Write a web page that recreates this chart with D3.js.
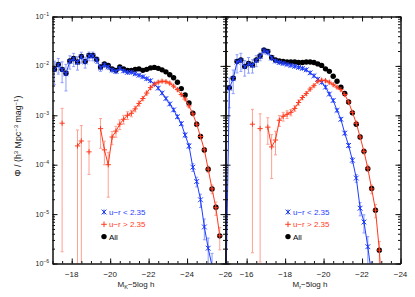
<!DOCTYPE html>
<html><head><meta charset="utf-8">
<script src="https://cdn.jsdelivr.net/npm/d3@7"></script>
<style>body{margin:0;background:#fff}svg{display:block}text{font-family:"Liberation Sans",Arial,sans-serif}</style>
</head><body><svg id="c" width="415" height="297"></svg>
<script>
// ---------- DATA (log10 Phi, relative errors) ----------
// Left panel: M_K - 5 log h
const kAllM = [-17.1,-17.3,-17.5,-17.7,-17.9,-18.1,-18.3,-18.5,-18.7,-18.9,-19.1,-19.3,-19.5,-19.7,-19.9,-20.1,-20.3,-20.5,-20.7,-20.9,-21.1,-21.3,-21.5,-21.7,-21.9,-22.1,-22.3,-22.5,-22.7,-22.9,-23.1,-23.3,-23.5,-23.7,-23.9,-24.1,-24.3,-24.5,-24.7,-24.9,-25.1,-25.3,-25.5,-25.7];
const kAll  = [-2.07,-1.97,-2.07,-2.15,-1.90,-1.85,-1.92,-1.81,-1.91,-1.79,-1.79,-1.87,-2.02,-1.96,-1.99,-2.06,-2.09,-2.02,-2.06,-2.09,-2.09,-2.07,-2.06,-2.09,-2.07,-2.04,-2.03,-2.05,-2.08,-2.12,-2.18,-2.24,-2.33,-2.46,-2.59,-2.75,-2.96,-3.18,-3.43,-3.70,-4.09,-4.49,-4.86,-5.44];

const kBlueM = [-17.1,-17.3,-17.5,-17.7,-17.9,-18.1,-18.3,-18.5,-18.7,-18.9,-19.1,-19.3,-19.5,-19.7,-19.9,-20.1,-20.3,-20.5,-20.7,-20.9,-21.1,-21.3,-21.5,-21.7,-21.9,-22.1,-22.3,-22.5,-22.7,-22.9,-23.1,-23.3,-23.5,-23.7,-23.9,-24.1,-24.3,-24.5,-24.7,-24.9,-25.1,-25.3,-25.5];
const kBlue  = [-2.08,-1.98,-2.08,-2.16,-1.91,-1.86,-1.93,-1.82,-1.92,-1.80,-1.80,-1.88,-2.04,-1.98,-2.02,-2.08,-2.11,-2.05,-2.10,-2.13,-2.13,-2.16,-2.19,-2.22,-2.26,-2.30,-2.37,-2.45,-2.55,-2.66,-2.77,-2.89,-3.03,-3.17,-3.40,-3.62,-4.05,-4.34,-4.71,-5.26,-5.69,-6.05,-6.50];
const kBlueErr = [0.5,0.35,0.45,0.55,0.3,0.3,0.3,0.25,0.25,0.2,0.2,0.15,0.15,0.12,0.12,0.1,0.1,0.08,0.08,0.06,0.05,0.05,0.05,0.05,0.05,0.05,0.05,0.05,0.05,0.05,0.05,0.06,0.07,0.08,0.1,0.12,0.18,0.22,0.3,0.45,0.6,0.8,1.0];

const kRedM = [-17.5,-17.7,-17.9,-18.1,-18.3,-18.5,-18.7,-18.9,-19.1,-19.3,-19.5,-19.7,-19.9,-20.1,-20.3,-20.5,-20.7,-20.9,-21.1,-21.3,-21.5,-21.7,-21.9,-22.1,-22.3,-22.5,-22.7,-22.9,-23.1,-23.3,-23.5,-23.7,-23.9,-24.1,-24.3,-24.5,-24.7,-24.9,-25.1,-25.3,-25.5,-25.7];
const kRed  = [-3.16,null,null,null,-3.62,-3.52,null,-3.74,null,null,-3.27,-3.70,-4.00,-3.44,-3.32,-3.18,-3.08,-3.00,-2.96,-2.87,-2.76,-2.66,-2.55,-2.44,-2.37,-2.33,-2.31,-2.32,-2.35,-2.41,-2.48,-2.58,-2.67,-2.81,-2.97,-3.18,-3.43,-3.70,-4.09,-4.49,-4.87,-5.44];
const kRedErr = [0.9975,0,0,0,1.1,1.05,0,0.65,0,0,0.6,0.5,0.78,0.3,0.25,0.22,0.2,0.18,0.15,0.13,0.12,0.1,0.09,0.08,0.07,0.06,0.06,0.06,0.06,0.06,0.06,0.06,0.06,0.07,0.08,0.09,0.1,0.12,0.15,0.2,0.3,0.48];

// Right panel: M_r - 5 log h
const rAllM = [-15.1,-15.3,-15.5,-15.7,-15.9,-16.1,-16.3,-16.5,-16.7,-16.9,-17.1,-17.3,-17.5,-17.7,-17.9,-18.1,-18.3,-18.5,-18.7,-18.9,-19.1,-19.3,-19.5,-19.7,-19.9,-20.1,-20.3,-20.5,-20.7,-20.9,-21.1,-21.3,-21.5,-21.7,-21.9,-22.1,-22.3,-22.5,-22.7,-22.9];
const rAll  = [-2.44,-2.25,-1.91,-1.88,-2.01,-1.95,-1.98,-1.88,-1.80,-1.68,-1.71,-1.83,-1.88,-1.90,-1.91,-1.92,-1.92,-1.92,-1.93,-1.93,-1.92,-1.92,-1.93,-1.96,-1.99,-2.06,-2.11,-2.21,-2.31,-2.43,-2.56,-2.73,-2.95,-3.18,-3.44,-3.73,-4.08,-4.48,-4.92,-5.73];

const rBlueM = [-14.9,-15.1,-15.3,-15.5,-15.7,-15.9,-16.1,-16.3,-16.5,-16.7,-16.9,-17.1,-17.3,-17.5,-17.7,-17.9,-18.1,-18.3,-18.5,-18.7,-18.9,-19.1,-19.3,-19.5,-19.7,-19.9,-20.1,-20.3,-20.5,-20.7,-20.9,-21.1,-21.3,-21.5,-21.7,-21.9,-22.1,-22.3,-22.5];
const rBlue  = [-7.0,-2.45,-2.26,-1.92,-1.89,-2.02,-1.96,-1.99,-1.89,-1.81,-1.69,-1.72,-1.84,-1.90,-1.93,-1.95,-1.97,-1.99,-2.01,-2.03,-2.05,-2.08,-2.14,-2.20,-2.27,-2.33,-2.43,-2.57,-2.70,-2.90,-3.08,-3.36,-3.61,-3.91,-4.27,-4.88,-5.16,-5.66,-6.25];
const rBlueErr = [0,0.6,0.5,0.4,0.4,0.35,0.35,0.3,0.25,0.18,0.14,0.12,0.1,0.08,0.07,0.06,0.05,0.05,0.05,0.05,0.05,0.05,0.05,0.05,0.05,0.05,0.05,0.05,0.06,0.06,0.07,0.08,0.1,0.13,0.18,0.3,0.4,0.6,0.9];

const rRedM = [-16.3,-16.5,-16.7,-16.9,-17.1,-17.3,-17.5,-17.7,-17.9,-18.1,-18.3,-18.5,-18.7,-18.9,-19.1,-19.3,-19.5,-19.7,-19.9,-20.1,-20.3,-20.5,-20.7,-20.9,-21.1,-21.3,-21.5,-21.7,-21.9,-22.1,-22.3,-22.5,-22.7,-22.9,-23.1];
const rRed  = [-3.18,null,-3.27,null,-3.24,-3.64,-3.50,-3.10,-3.02,-2.98,-2.94,-2.86,-2.74,-2.64,-2.56,-2.47,-2.40,-2.31,-2.29,-2.30,-2.33,-2.38,-2.43,-2.48,-2.58,-2.73,-2.94,-3.16,-3.44,-3.73,-4.07,-4.49,-4.92,-5.73,-7.0];
const rRedErr = [0.9975,0,0.998,0,0.55,0.77,0.5,0.25,0.2,0.18,0.15,0.13,0.12,0.1,0.09,0.08,0.07,0.06,0.06,0.06,0.06,0.06,0.06,0.06,0.06,0.07,0.08,0.09,0.1,0.12,0.15,0.2,0.3,0.5,0];

const yTickExps = [-6,-5,-4,-3,-2,-1];
const kTickLabels = [-18,-20,-22,-24,-26];
const rTickLabels = [-16,-18,-20,-22,-24];
const legendLabels = ["u\u2212r < 2.35","u\u2212r > 2.35","All"];

// ---------- LAYOUT ----------
const BLUE="#1e3cff", BLUE_E="#8c9cff", RED="#ff3a1e", RED_E="#ffa092", BLACK="#000";
const yTop=16.5, yBot=263.5;
const y = d3.scaleLog().domain([1e-6,1e-1]).range([yBot,yTop]);
const xK = d3.scaleLinear().domain([-17,-26]).range([52.5,225.5]);
const xR = d3.scaleLinear().domain([-14.9,-24]).range([225.5,400.5]);
const svg = d3.select("#c");

function mk(M, L, E){ return M.map((m,i)=>({m, v: L[i]==null?null:Math.pow(10,L[i]), e: E?E[i]:0})); }

function asterisk(sel, s){ sel.append("path").attr("d",`M0,${-s}V${s}M${-s},${-s}L${s},${s}M${-s},${s}L${s},${-s}`); }
function plus(sel, s){ sel.append("path").attr("d",`M${-s},0H${s}M0,${-s}V${s}`); }

function panel(id, x, all, blue, red){
  const [x0,x1] = x.range();
  svg.append("clipPath").attr("id",id).append("rect").attr("x",x0).attr("y",yTop).attr("width",x1-x0).attr("height",yBot-yTop);
  const g = svg.append("g").attr("clip-path",`url(#${id})`);
  const bottomOff = yBot+50;
  function errs(data, col){
    const eg = g.append("g").attr("stroke",col).attr("stroke-width",1).attr("fill","none");
    data.filter(d=>d.v!=null && d.e>0).forEach(d=>{
      const cx = x(d.m);
      const lo = d.v*(1-d.e), hi = d.v*(1+d.e);
      const yl = lo>0 ? y(lo) : bottomOff, yh = y(hi);
      eg.append("line").attr("x1",cx).attr("x2",cx).attr("y1",yh).attr("y2",yl);
      eg.append("line").attr("x1",cx-1.5).attr("x2",cx+1.5).attr("y1",yh).attr("y2",yh);
      if(lo>0) eg.append("line").attr("x1",cx-1.5).attr("x2",cx+1.5).attr("y1",yl).attr("y2",yl);
    });
  }
  errs(blue, BLUE_E);
  errs(red, RED_E);
  // All circles
  g.append("g").selectAll("circle").data(all).join("circle")
    .attr("cx",d=>x(d.m)).attr("cy",d=>y(d.v)).attr("r",2.7).attr("fill",BLACK);
  const line = d3.line().defined(d=>d.v!=null).x(d=>x(d.m)).y(d=>y(d.v));
  // blue
  g.append("path").datum(blue).attr("d",line).attr("fill","none").attr("stroke",BLUE).attr("stroke-width",1);
  const bg = g.append("g").attr("stroke",BLUE).attr("stroke-width",1).attr("fill","none");
  blue.filter(d=>d.v!=null).forEach(d=>{ asterisk(bg.append("g").attr("transform",`translate(${x(d.m)},${y(d.v)})`),2.4); });
  // red
  g.append("path").datum(red).attr("d",line).attr("fill","none").attr("stroke",RED).attr("stroke-width",1);
  const rg = g.append("g").attr("stroke",RED).attr("stroke-width",1).attr("fill","none");
  red.filter(d=>d.v!=null).forEach(d=>{ plus(rg.append("g").attr("transform",`translate(${x(d.m)},${y(d.v)})`),2.6); });

  // axes (inward ticks on all sides)
  const dom = x.domain();
  const lo = Math.min(...dom), hi = Math.max(...dom);
  const minor = d3.range(Math.ceil(lo*2)/2, hi+1e-9, 0.5);
  const major = minor.filter(v=>Math.abs(v%2)<1e-9);
  const ax = (axis, ty)=> svg.append("g").attr("transform",`translate(0,${ty})`).call(axis);
  [[d3.axisBottom, yBot],[d3.axisTop, yTop]].forEach(([A,ty])=>{
    const a1 = ax(A(x).tickValues(minor).tickSizeInner(-2.5).tickSizeOuter(0).tickFormat(""), ty);
    const a2 = ax(A(x).tickValues(major).tickSizeInner(-5).tickSizeOuter(0).tickFormat(""), ty);
    [a1,a2].forEach(a=>{a.select(".domain").attr("stroke","#111"); a.selectAll(".tick line").attr("stroke","#111");});
  });
  const yMinor = y.ticks().filter(v=>v>=1e-6 && v<=1e-1);
  const yMajor = yTickExps.map(e=>Math.pow(10,e));
  [[d3.axisLeft, x0],[d3.axisRight, x1]].forEach(([A,tx])=>{
    const a1 = svg.append("g").attr("transform",`translate(${tx},0)`).call(A(y).tickValues(yMinor).tickSizeInner(-2.5).tickSizeOuter(0).tickFormat(""));
    const a2 = svg.append("g").attr("transform",`translate(${tx},0)`).call(A(y).tickValues(yMajor).tickSizeInner(-5).tickSizeOuter(0).tickFormat(""));
    [a1,a2].forEach(a=>{a.select(".domain").attr("stroke","#111"); a.selectAll(".tick line").attr("stroke","#111");});
  });
}

panel("cl", xK, mk(kAllM,kAll), mk(kBlueM,kBlue,kBlueErr), mk(kRedM,kRed,kRedErr));
panel("cr", xR, mk(rAllM,rAll), mk(rBlueM,rBlue,rBlueErr), mk(rRedM,rRed,rRedErr));

// x tick labels
function xLabels(x, vals){
  svg.append("g").selectAll("text").data(vals).join("text")
    .attr("x",d=>x(d)).attr("y",277).attr("text-anchor","middle")
    .attr("font-size",8).attr("fill","#222").text(d=>"\u2212"+Math.abs(d));
}
xLabels(xK, kTickLabels);
xLabels(xR, rTickLabels);

// y tick labels
yTickExps.forEach(e=>{
  const t = svg.append("text").attr("x",49).attr("y",y(Math.pow(10,e))+2.5)
    .attr("text-anchor","end").attr("fill","#222");
  t.append("tspan").attr("font-size",7).text("10");
  t.append("tspan").attr("font-size",5).attr("dy",-3).text("\u2212"+Math.abs(e));
});

// axis titles
function xTitle(cx, sub){
  const t = svg.append("text").attr("x",cx).attr("y",287).attr("text-anchor","middle").attr("font-size",8).attr("fill","#222");
  t.append("tspan").text("M");
  t.append("tspan").attr("font-size",5.5).attr("dy",1.8).text(sub);
  t.append("tspan").attr("dy",-1.8).text("\u22125log h");
}
xTitle(136, "K");
xTitle(310, "r");

const yt = svg.append("text").attr("transform","translate(21,136) rotate(-90)")
  .attr("text-anchor","middle").attr("font-size",8.8).attr("fill","#222");
yt.append("tspan").text("\u03A6 / (h");
yt.append("tspan").attr("font-size",6).attr("dy",-3.5).text("3");
yt.append("tspan").attr("dy",3.5).text(" Mpc");
yt.append("tspan").attr("font-size",6).attr("dy",-3.5).text("\u22123");
yt.append("tspan").attr("dy",3.5).text(" mag");
yt.append("tspan").attr("font-size",6).attr("dy",-3.5).text("\u22121");
yt.append("tspan").attr("dy",3.5).text(")");

// legends
function legend(lx){
  const cols = [BLUE, RED, BLACK];
  legendLabels.forEach((lab,i)=>{
    const cy = 212 + i*12.3;
    const g = svg.append("g").attr("transform",`translate(${lx},${cy})`);
    if(i===0) asterisk(g.append("g").attr("stroke",BLUE).attr("fill","none"),2.4);
    if(i===1) plus(g.append("g").attr("stroke",RED).attr("fill","none"),2.8);
    if(i===2) g.append("circle").attr("r",2.7).attr("fill",BLACK);
    svg.append("text").attr("x",lx+5).attr("y",cy+3).attr("font-size",8).attr("fill",cols[i]).text(lab);
  });
}
legend(104);
legend(288);
</script></body></html>
